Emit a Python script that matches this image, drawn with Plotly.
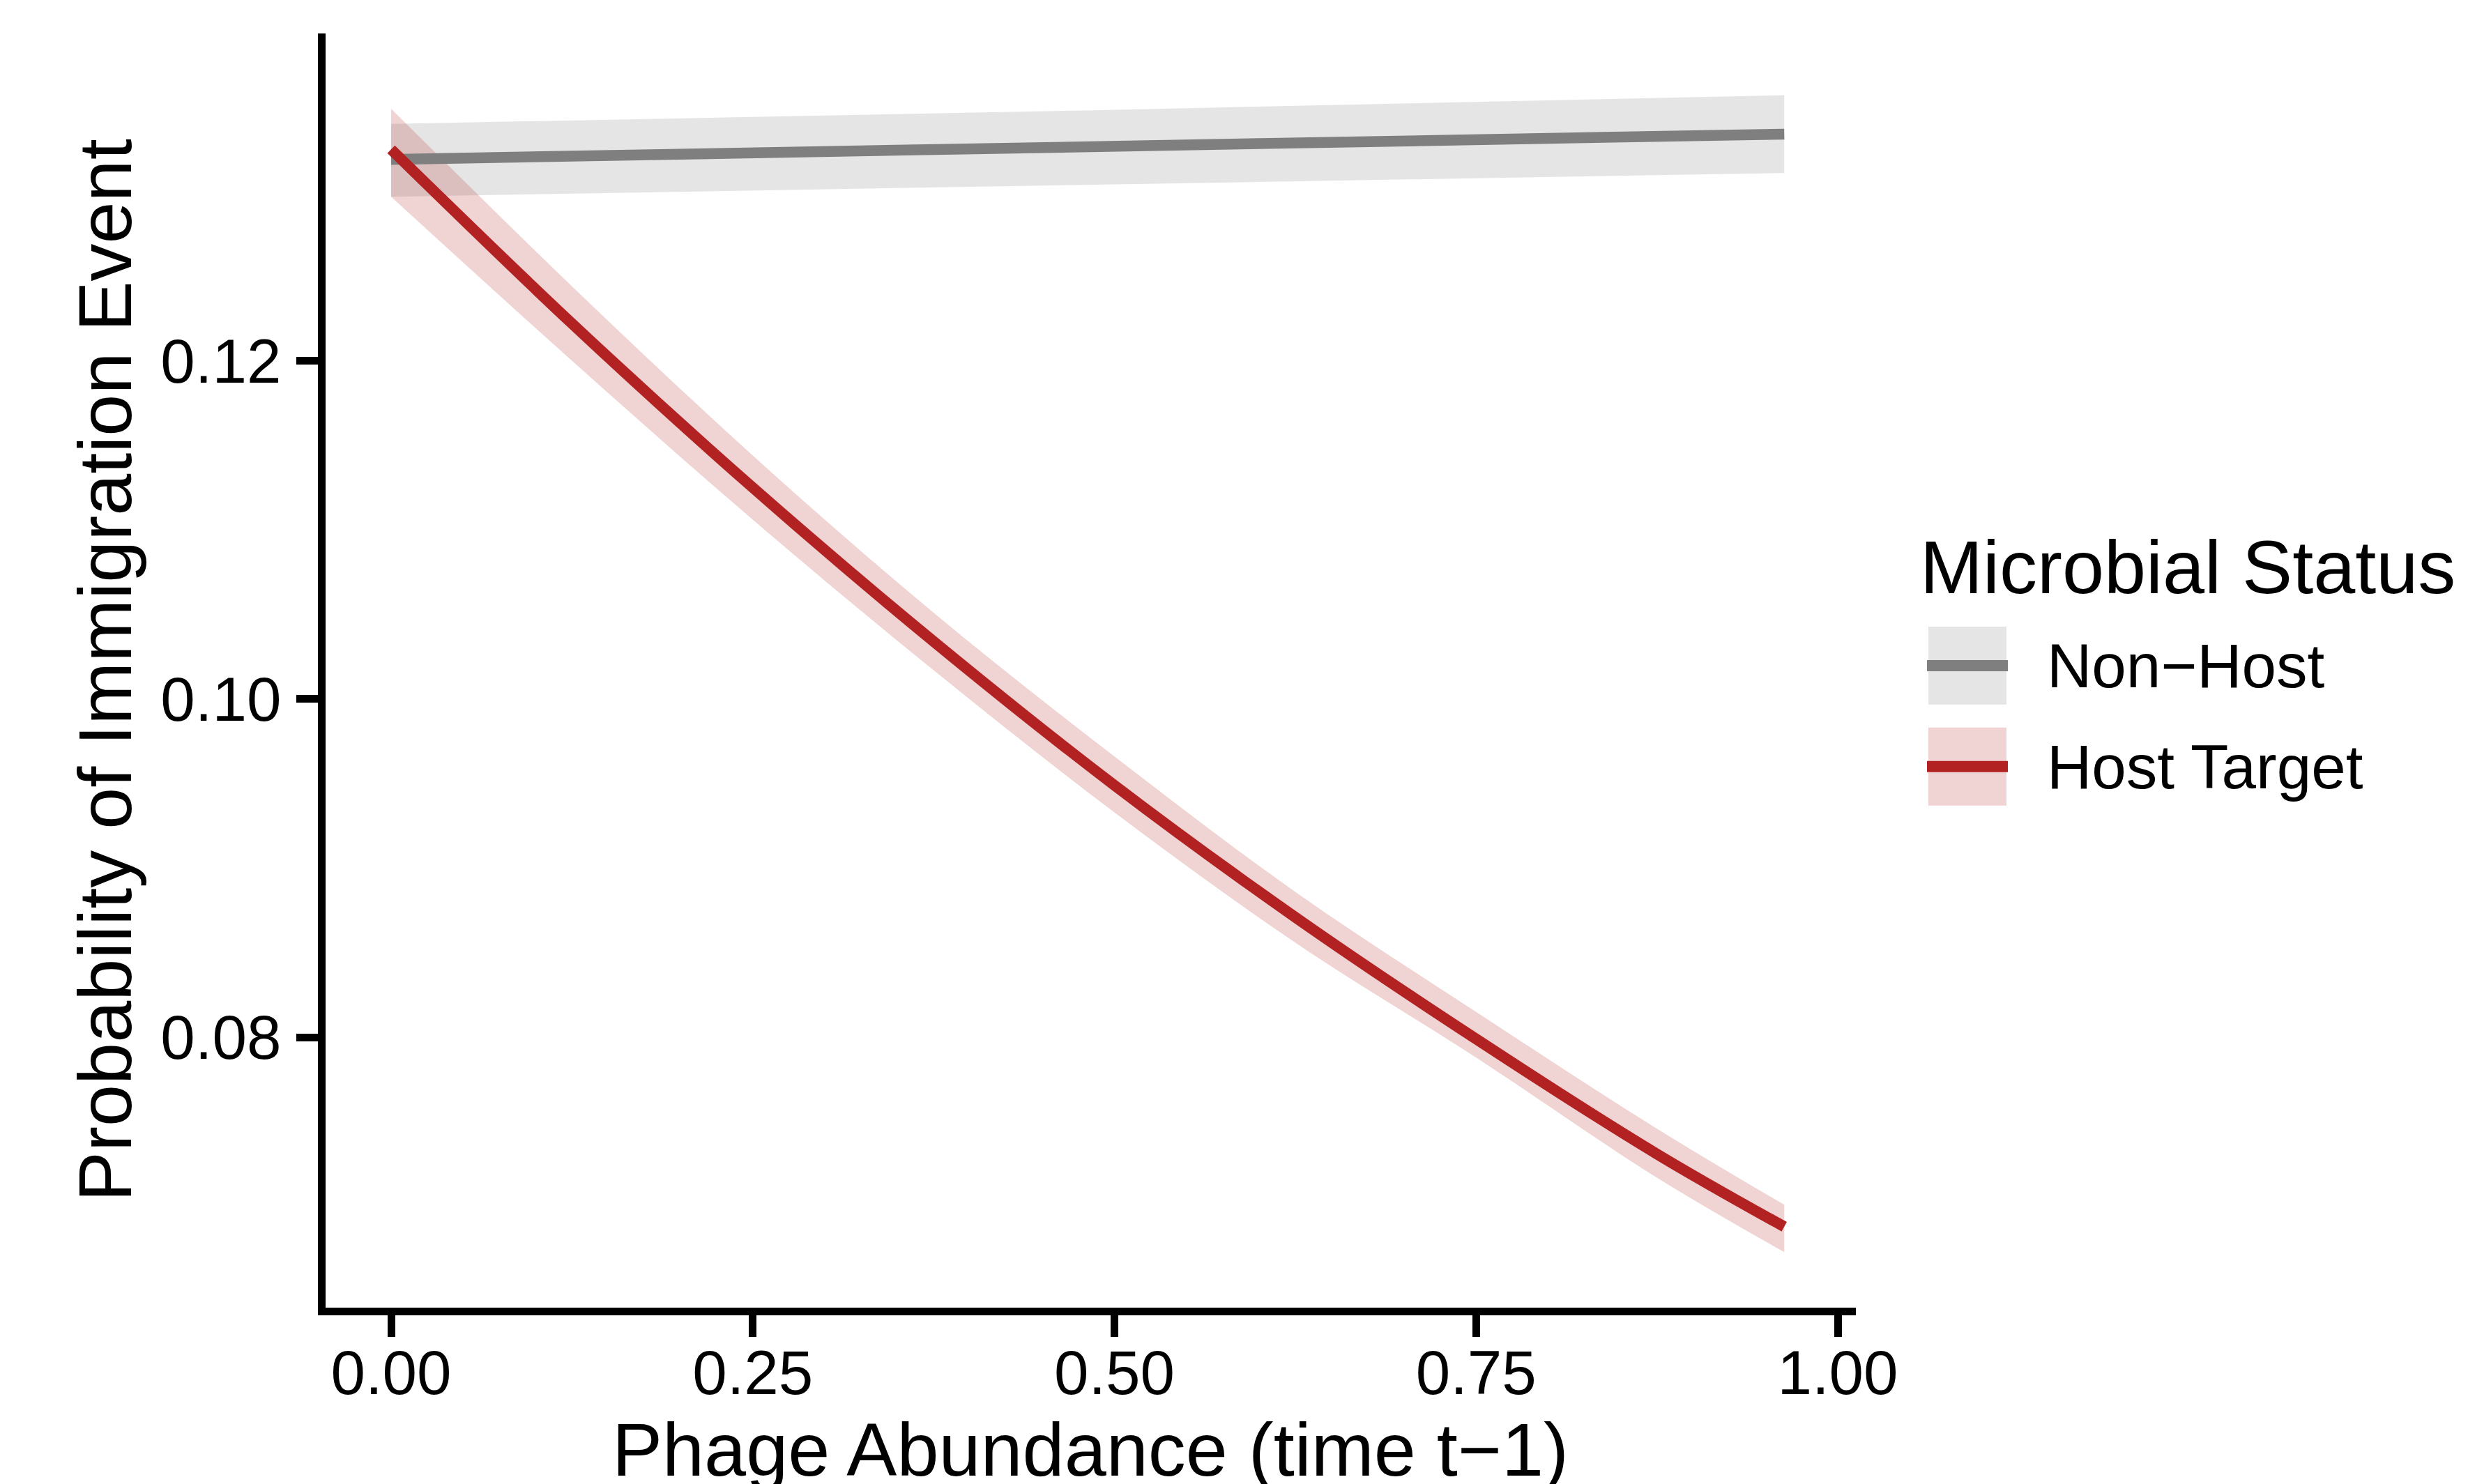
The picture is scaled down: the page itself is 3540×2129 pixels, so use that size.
import plotly.graph_objects as go

# ---------------- data ----------------
x_host = [0.0, 0.125, 0.25, 0.375, 0.5, 0.625, 0.75, 0.875, 0.963]
y_host = [0.1325, 0.1222, 0.1125, 0.1034, 0.0949, 0.0871, 0.0799, 0.0731, 0.0688]
lo_host = [0.1297, 0.1200, 0.1106, 0.1017, 0.0933, 0.0856, 0.0788, 0.0717, 0.0673]
hi_host = [0.1349, 0.1244, 0.1144, 0.1051, 0.0966, 0.0886, 0.0815, 0.0746, 0.0701]

x_non = [0.0, 0.48, 0.963]
y_non = [0.1319, 0.1326, 0.1334]
lo_non = [0.1297, 0.1304, 0.1311]
hi_non = [0.1340, 0.1348, 0.1357]

x_ticks = [0.0, 0.25, 0.5, 0.75, 1.0]
x_ticklabels = ["0.00", "0.25", "0.50", "0.75", "1.00"]
y_ticks = [0.08, 0.10, 0.12]
y_ticklabels = ["0.08", "0.10", "0.12"]

legend_title = "Microbial Status"
series_names = ["Non\u2212Host", "Host Target"]
x_title = "Phage Abundance (time t\u22121)"
y_title = "Probability of Immigration Event"

# ---------------- style ----------------
FONT = "Liberation Sans"
GRAY = "#7F7F7F"
RED = "#B22222"
GRAY_FILL = "rgba(127,127,127,0.2)"
RED_FILL = "rgba(178,34,34,0.2)"
W, H = 3540, 2129
OFF = 8  # default body margin of the html page
L, R_EDGE, T, B_EDGE = 467.0, 2662.0, 48.0, 1876.25
PW, PH = R_EDGE - L, B_EDGE - T

def px_x(px):
    return (px - L) / PW

def px_y(py):
    return (B_EDGE - py) / PH

fig = go.Figure()

# ribbons
for xs, lo, hi, fc, shp in [(x_non, lo_non, hi_non, GRAY_FILL, "linear"),
                            (x_host, lo_host, hi_host, RED_FILL, "spline")]:
    fig.add_trace(go.Scatter(x=xs, y=lo, mode="lines", line=dict(width=0, color=fc, shape=shp),
                             showlegend=False, hoverinfo="skip"))
    fig.add_trace(go.Scatter(x=xs, y=hi, mode="lines", line=dict(width=0, color=fc, shape=shp),
                             fill="tonexty", fillcolor=fc, showlegend=False, hoverinfo="skip"))

# lines
fig.add_trace(go.Scatter(x=x_non, y=y_non, mode="lines", line=dict(color=GRAY, width=15.5),
                         name=series_names[0], showlegend=False))
fig.add_trace(go.Scatter(x=x_host, y=y_host, mode="lines", line=dict(color=RED, width=15.5, shape="spline"),
                         name=series_names[1], showlegend=False))

axis_common = dict(showgrid=False, zeroline=False, showline=True, linecolor="black", linewidth=10.5,
                   ticks="outside", ticklen=31, tickwidth=10.5, tickcolor="black",
                   tickfont=dict(family=FONT, size=89, color="black"))

fig.update_xaxes(range=[-0.0453, 1.01253], tickvals=x_ticks, ticktext=x_ticklabels,
                 ticklabelstandoff=-25, **axis_common)
fig.update_yaxes(range=[0.064015, 0.13935], tickvals=y_ticks, ticktext=y_ticklabels,
                 ticklabelstandoff=4, **axis_common)

annotations = [
    dict(text=x_title, xref="paper", yref="paper", x=px_x(1564), y=px_y(2080), xanchor="center", yanchor="middle",
         showarrow=False, font=dict(family=FONT, size=108, color="black")),
    dict(text=y_title, xref="paper", yref="paper", x=px_x(150), y=0.5, xanchor="center", yanchor="middle",
         textangle=-90, showarrow=False, font=dict(family=FONT, size=108, color="black")),
    dict(text=legend_title, xref="paper", yref="paper", x=px_x(2752), y=px_y(814), xanchor="left", yanchor="middle",
         showarrow=False, font=dict(family=FONT, size=108, color="black")),
]

shapes = []
legend_items = [(series_names[0], GRAY, GRAY_FILL, 899, 1011), (series_names[1], RED, RED_FILL, 1044, 1156)]
for name, lc, fc, top, bot in legend_items:
    shapes.append(dict(type="rect", xref="paper", yref="paper", x0=px_x(2766), x1=px_x(2878),
                       y0=px_y(bot), y1=px_y(top), fillcolor=fc, line=dict(width=0), layer="above"))
    cy = (top + bot) / 2
    shapes.append(dict(type="line", xref="paper", yref="paper", x0=px_x(2764), x1=px_x(2880),
                       y0=px_y(cy), y1=px_y(cy), line=dict(color=lc, width=16), layer="above"))
    annotations.append(dict(text=name, xref="paper", yref="paper", x=px_x(2934), y=px_y(cy),
                            xanchor="left", yanchor="middle", showarrow=False,
                            font=dict(family=FONT, size=89, color="black")))

fig.update_layout(
    width=W, height=H, autosize=False,
    margin=dict(l=L - OFF, r=W - (R_EDGE - OFF), t=T - OFF, b=H - (B_EDGE - OFF), pad=0),
    paper_bgcolor="white", plot_bgcolor="white",
    showlegend=False,
    annotations=annotations, shapes=shapes,
    font=dict(family=FONT, color="black"),
)

fig.write_html("out.html")
